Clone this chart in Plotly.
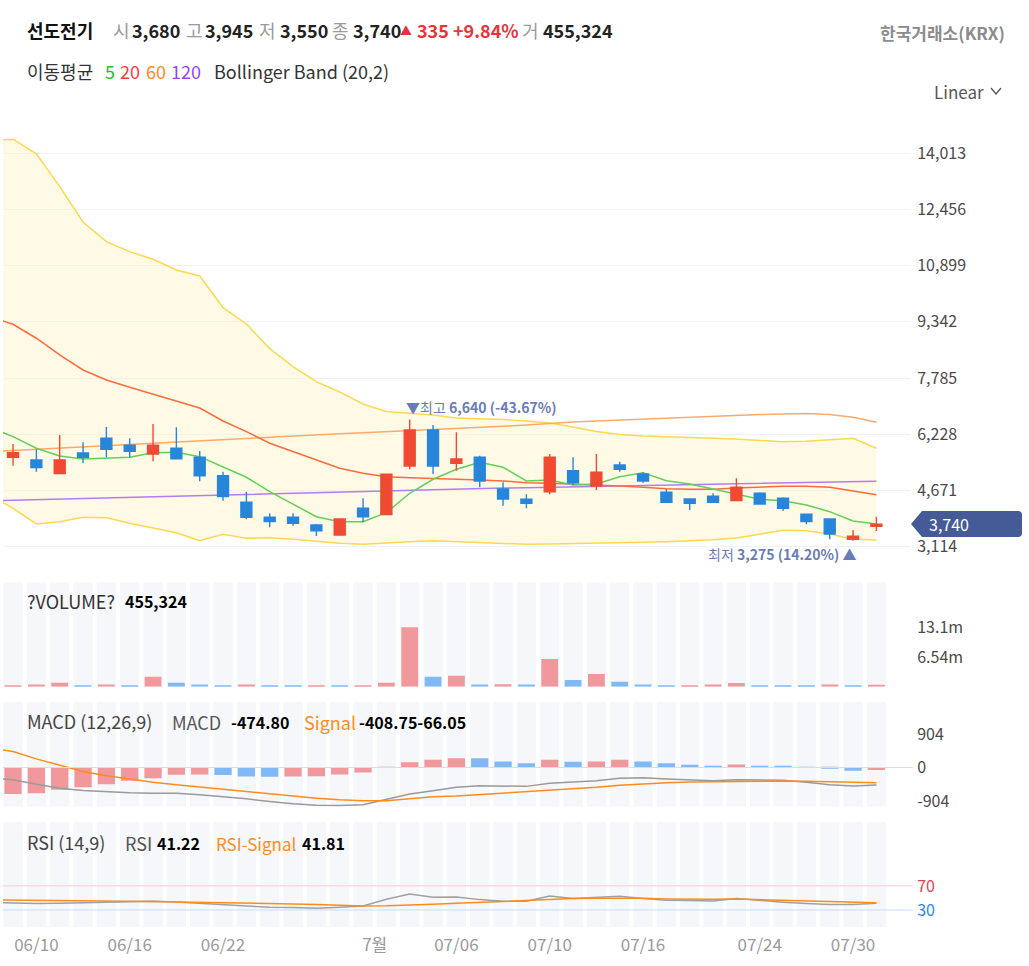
import plotly.graph_objects as go
from plotly.subplots import make_subplots

# 일봉 데이터 (화면에서 읽은 값)
days = list(range(38))
line_days = list(range(-1, 38))  # 보조지표는 화면 왼쪽 끝에서 이어짐

opens = [5591, 5516, 5137, 5710, 6118, 5924, 5683, 5841, 5591, 5081, 4344, 3929, 3929, 3715, 3438, 4178, 4001, 5350, 6348,
         5425, 5591, 4713, 4427, 4638, 5220, 4796, 5378, 5129, 4621, 4436, 4511, 4389, 4594, 4455, 4012, 3882, 3319, 3680]
highs = [5960, 5813, 6209, 6007, 6431, 6118, 6514, 6423, 5766, 5192, 4638, 4039, 4039, 3743, 3901, 4455, 5120, 6640, 6486,
         6284, 5636, 4899, 4566, 5683, 5591, 5683, 5469, 5176, 4713, 4436, 4594, 5009, 4621, 4483, 4012, 3882, 3577, 3945]
lows = [5358, 5192, 5137, 5425, 5591, 5591, 5480, 5535, 4926, 4389, 3873, 3652, 3696, 3410, 3419, 3790, 4001, 5259, 5129,
        5220, 4760, 4250, 4178, 4566, 4824, 4685, 5192, 4887, 4344, 4131, 4344, 4389, 4297, 4103, 3735, 3319, 3275, 3550]
closes = [5719, 5303, 5516, 5591, 5813, 5757, 5924, 5552, 5081, 4500, 3929, 3807, 3762, 3557, 3882, 3945, 5120, 6348, 5350,
          5544, 4935, 4436, 4317, 5591, 4887, 5176, 5259, 4935, 4344, 4317, 4344, 4760, 4297, 4178, 3807, 3466, 3405, 3740]
volumes = [250000, 500000, 880000, 200000, 500000, 220000, 2200000, 880000, 500000, 220000, 500000, 220000, 200000,
           220000, 210000, 250000, 880000, 13080000, 2200000, 2420000, 510000, 530000, 500000, 6100000, 1470000,
           2790000, 1100000, 510000, 220000, 240000, 510000, 810000, 220000, 210000, 200000, 480000, 300000, 455324]

ma5 = [6420, 6162, 5841, 5627, 5544, 5564, 5591, 5719, 5730, 5608, 5331, 5037, 4638, 4297, 3945, 3807, 3807, 4056, 4594,
       4982, 5259, 5453, 5314, 4935, 4962, 4824, 4851, 5054, 5165, 4943, 4851, 4713, 4566, 4427, 4389, 4270, 4084, 3826, 3743]
ma20 = [9490, 9277, 8889, 8426, 8010, 7733, 7531, 7345, 7160, 6957, 6597, 6301, 5979, 5746, 5516, 5286, 5148, 5054, 5026,
        5009, 4990, 4962, 4935, 4887, 4871, 4851, 4824, 4796, 4760, 4721, 4705, 4705, 4741, 4768, 4788, 4788, 4760, 4657, 4555]
ma60 = [5744, 5774, 5807, 5841, 5877, 5910, 5946, 5982, 6015, 6048, 6090, 6128, 6159, 6187, 6215, 6242, 6270, 6298, 6326,
        6353, 6389, 6417, 6450, 6486, 6532, 6569, 6597, 6625, 6648, 6680, 6708, 6727, 6755, 6774, 6791, 6802, 6774, 6700, 6561]
ma120 = [4383, 4400, 4416, 4433, 4450, 4466, 4483, 4500, 4516, 4533, 4549, 4566, 4583, 4599, 4616, 4633, 4649, 4666, 4682,
         4699, 4713, 4724, 4738, 4749, 4760, 4774, 4785, 4796, 4810, 4821, 4832, 4843, 4857, 4868, 4879, 4893, 4904, 4915, 4926]
bb_upper = [14365, 14403, 13996, 13090, 12111, 11566, 11288, 11078, 10781, 10615, 9737, 9285, 8601, 8102, 7686, 7401, 7068,
            6860, 6811, 6763, 6680, 6666, 6639, 6597, 6542, 6431, 6306, 6223, 6181, 6162, 6145, 6126, 6098, 6057, 6024,
            6035, 6071, 6118, 5841]
bb_lower = [4541, 4178, 3743, 3807, 3929, 3918, 3762, 3624, 3502, 3280, 3458, 3347, 3363, 3319, 3253, 3208, 3181, 3225,
            3253, 3280, 3253, 3230, 3208, 3181, 3189, 3197, 3208, 3225, 3236, 3253, 3272, 3308, 3355, 3452, 3568, 3557,
            3466, 3319, 3300]

macd_line = [-280, -332, -449, -557, -621, -656, -683, -692, -692, -737, -783, -846, -918, -981, -1016, -1026, -1007,
             -872, -718, -629, -535, -491, -500, -509, -427, -392, -356, -292, -275, -311, -338, -356, -329, -329, -347,
             -401, -464, -500, -474.80]
macd_signal = [520, 432, 234, 54, -108, -224, -313, -395, -467, -521, -583, -648, -711, -772, -827, -872, -899, -899,
               -853, -790, -770, -734, -697, -661, -626, -580, -535, -481, -437, -410, -392, -383, -374, -365, -365,
               -374, -392, -410, -408.75]
macd_hist = [-718, -692, -602, -530, -449, -360, -287, -198, -190, -205, -243, -246, -240, -236, -190, -135, 20, 145,
             207, 252, 248, 162, 117, 207, 158, 165, 207, 162, 117, 72, 36, 81, 36, 34, -5, -36, -85, -66.05]

rsi = [42.5, 41.7, 40.6, 41.1, 41.7, 42.8, 43.3, 44.4, 43.3, 41.1, 38.9, 36.1, 34.4, 33.9, 32.8, 34.4, 36.7, 47.8, 56.7,
       51.1, 51.7, 47.2, 44.4, 44.4, 53.3, 48.9, 50.6, 52.8, 48.9, 46.1, 45.6, 45.0, 48.9, 45.6, 42.8, 40.6, 38.9, 38.9, 41.22]
rsi_signal = [47.0, 46.7, 46.1, 45.6, 45.0, 44.4, 44.2, 43.9, 43.3, 42.8, 42.2, 41.7, 41.1, 40.0, 38.9, 37.8, 36.7, 36.9,
              37.8, 39.4, 41.1, 42.8, 44.4, 45.0, 47.2, 48.9, 49.4, 50.0, 49.4, 48.3, 47.8, 47.8, 48.3, 47.2, 46.1, 45.6,
              44.4, 43.3, 41.81]

tick_pos = [1, 5, 9, 15.5, 19, 23, 27, 32, 36]
tick_text = ["06/10", "06/16", "06/22", "7월", "07/06", "07/10", "07/16", "07/24", "07/30"]
price_ticks = [3114, 4671, 6228, 7785, 9342, 10899, 12456, 14013]

RED = "#f04a33"
BLUE = "#2886da"
RED_SOFT = "#f0989c"
BLUE_SOFT = "#80b9f5"
STRIPE = "#f5f7fb"
FONT = "Noto Sans CJK KR"

# 화면 픽셀 -> paper 좌표
def px_x(x):
    return (x - 3) / 907

def px_y(y):
    return (927 - y) / 799

fig = make_subplots(rows=4, cols=1, shared_xaxes=True)

# 가격 패널
fig.add_trace(go.Scatter(x=line_days, y=bb_upper, mode="lines", line=dict(color="#ffd84d", width=1.5)), row=1, col=1)
fig.add_trace(go.Scatter(x=line_days, y=bb_lower, mode="lines", line=dict(color="#ffd84d", width=1.5),
                         fill="tonexty", fillcolor="rgba(255,243,200,0.45)"), row=1, col=1)
fig.add_trace(go.Scatter(x=line_days, y=ma120, mode="lines", line=dict(color="#b27df2", width=1.5)), row=1, col=1)
fig.add_trace(go.Scatter(x=line_days, y=ma60, mode="lines", line=dict(color="#ffa96b", width=1.5)), row=1, col=1)
fig.add_trace(go.Scatter(x=line_days, y=ma20, mode="lines", line=dict(color="#ff6b3d", width=1.5)), row=1, col=1)
fig.add_trace(go.Scatter(x=line_days, y=ma5, mode="lines", line=dict(color="#62cf55", width=1.5)), row=1, col=1)
# 캔들은 지표선 위에 그리기 위해 겹친 축(y5)에 올린다
fig.add_trace(go.Candlestick(x=days, open=opens, high=highs, low=lows, close=closes, whiskerwidth=0,
                             xaxis="x", yaxis="y5",
                             increasing=dict(line=dict(color=RED, width=1.4), fillcolor=RED),
                             decreasing=dict(line=dict(color=BLUE, width=1.4), fillcolor=BLUE)))

# 거래량 패널
vol_top = 23.0e6
vol_colors = [RED_SOFT] + [RED_SOFT if volumes[i] > volumes[i - 1] else BLUE_SOFT for i in range(1, len(volumes))]
fig.add_trace(go.Bar(x=days, y=[vol_top] * len(days), width=0.83, marker=dict(color=STRIPE, line_width=0)), row=2, col=1)
fig.add_trace(go.Bar(x=days, y=volumes, width=0.72, marker=dict(color=vol_colors, line_width=0)), row=2, col=1)

# MACD 패널
macd_lo, macd_hi = -1058, 1777
hist_colors = [RED_SOFT] + [RED_SOFT if macd_hist[i] > macd_hist[i - 1] else BLUE_SOFT for i in range(1, len(macd_hist))]
fig.add_trace(go.Bar(x=days, y=[macd_hi - macd_lo] * len(days), base=macd_lo, width=0.83,
                     marker=dict(color=STRIPE, line_width=0)), row=3, col=1)
fig.add_trace(go.Bar(x=days, y=macd_hist, width=0.74, marker=dict(color=hist_colors, line_width=0)), row=3, col=1)
fig.add_trace(go.Scatter(x=line_days, y=macd_line, mode="lines", line=dict(color="#9a9a9a", width=1.5)), row=3, col=1)
fig.add_trace(go.Scatter(x=line_days, y=macd_signal, mode="lines", line=dict(color="#ff8c1a", width=1.5)), row=3, col=1)

# RSI 패널
rsi_lo, rsi_hi = 1.7, 176.7
fig.add_trace(go.Bar(x=days, y=[rsi_hi - rsi_lo] * len(days), base=rsi_lo, width=0.83,
                     marker=dict(color=STRIPE, line_width=0)), row=4, col=1)
fig.add_trace(go.Scatter(x=line_days, y=rsi, mode="lines", line=dict(color="#a0a0a0", width=1.5)), row=4, col=1)
fig.add_trace(go.Scatter(x=line_days, y=rsi_signal, mode="lines", line=dict(color="#ff8c1a", width=1.5)), row=4, col=1)

axis_font = dict(family=FONT, size=16, color="#4a4a4a")
x_range = [-0.43, 38.44]
price_range = [2745, 14714]
for r in range(1, 5):
    fig.update_xaxes(range=x_range, showgrid=False, zeroline=False, showline=False, showticklabels=False,
                     rangeslider_visible=False, row=r, col=1)
fig.update_xaxes(showticklabels=True, tickvals=tick_pos, ticktext=tick_text, ticks="outside", ticklen=3,
                 tickcolor="rgba(0,0,0,0)", tickfont=dict(family=FONT, size=17, color="#9a9a9a"), row=4, col=1)

fig.update_yaxes(side="right", range=price_range, tickvals=price_ticks, ticktext=[f"{v:,}" for v in price_ticks],
                 showgrid=True, gridcolor="#f0f1f3", zeroline=False, ticks="outside", ticklen=3,
                 tickcolor="rgba(0,0,0,0)", tickfont=axis_font, row=1, col=1)
fig.update_yaxes(side="right", range=[0, vol_top], tickvals=[6.54e6, 13.08e6], ticktext=["6.54m", "13.1m"],
                 showgrid=False, zeroline=False, ticks="outside", ticklen=3, tickcolor="rgba(0,0,0,0)",
                 tickfont=axis_font, row=2, col=1)
fig.update_yaxes(side="right", range=[macd_lo, macd_hi], tickvals=[-904, 0, 904], ticktext=["-904", "0", "904"],
                 showgrid=False, zeroline=False, ticks="outside", ticklen=3, tickcolor="rgba(0,0,0,0)",
                 tickfont=axis_font, row=3, col=1)
fig.update_yaxes(side="right", range=[rsi_lo, rsi_hi], tickvals=[30, 70],
                 ticktext=['<span style="color:#2b87e8">30</span>', '<span style="color:#e5434b">70</span>'],
                 showgrid=False, zeroline=False, ticks="outside", ticklen=3, tickcolor="rgba(0,0,0,0)",
                 tickfont=axis_font, row=4, col=1)

fig.update_layout(
    yaxis=dict(domain=[px_y(560), 1]),
    yaxis2=dict(domain=[px_y(686.7), px_y(582.3)]),
    yaxis3=dict(domain=[px_y(806.7), px_y(701.7)]),
    yaxis4=dict(domain=[0, px_y(821.7)]),
    yaxis5=dict(overlaying="y", range=price_range, visible=False, showgrid=False, zeroline=False),
)

shapes = [
    dict(type="line", xref="x3 domain", yref="y3", x0=0, x1=1.003, y0=0, y1=0, line=dict(color="#dddddd", width=1)),
    dict(type="line", xref="x4 domain", yref="y4", x0=0, x1=1.003, y0=70, y1=70, line=dict(color="#f9cdd0", width=1)),
    dict(type="line", xref="x4 domain", yref="y4", x0=0, x1=1.003, y0=30, y1=30, line=dict(color="#c6def9", width=1)),
    # 현재가 라벨 배경
    dict(type="path", xref="paper", xsizemode="pixel", xanchor=1, yref="y", ysizemode="pixel", yanchor=closes[-1],
         path="M 1 0 L 12 13 L 108 13 Q 112 13 112 9 L 112 -9 Q 112 -13 108 -13 L 12 -13 Z",
         fillcolor="#445b98", line=dict(width=0)),
    # Linear 드롭다운 화살표
    dict(type="path", xref="paper", yref="paper",
         path=f"M {px_x(991)} {px_y(88)} L {px_x(996)} {px_y(94)} L {px_x(1001)} {px_y(88)}",
         line=dict(color="#555555", width=1.3)),
]


def label(text, x, y, size=17, color="#333333", anchor="left"):
    return dict(xref="paper", yref="paper", x=px_x(x), y=px_y(y), xanchor=anchor, yanchor="middle",
                showarrow=False, text=text, font=dict(family=FONT, size=size, color=color))


gray = "#9b9b9b"
up_red = "#e8333c"
prev_close = closes[-2]
chg = closes[-1] - prev_close
pct = chg / prev_close * 100

hi_val = max(highs)
hi_idx = highs.index(hi_val)
lo_val = min(lows)
lo_idx = lows.index(lo_val)
hi_pct = (closes[-1] - hi_val) / hi_val * 100
lo_pct = (closes[-1] - lo_val) / lo_val * 100
mark_color = "#6a7cb8"

annotations = [
    # 상단 시세 줄
    label("<b>선도전기</b>", 25, 30, 18, "#111111"),
    label("시", 111, 30, 18, gray),
    label(f"<b>{opens[-1]:,}</b>", 130, 30, 18, "#222222"),
    label("고", 184, 30, 18, gray),
    label(f"<b>{highs[-1]:,}</b>", 203, 30, 18, "#222222"),
    label("저", 257, 30, 18, gray),
    label(f"<b>{lows[-1]:,}</b>", 278, 30, 18, "#222222"),
    label("종", 330, 30, 18, gray),
    label(f"<b>{closes[-1]:,}</b>", 351, 30, 18, "#222222"),
    label("▲", 398, 30, 12, up_red),
    label(f"<b>{chg:,}</b>", 415, 30, 18, up_red),
    label(f"<b>+{pct:.2f}%</b>", 451, 30, 18, up_red),
    label("거", 520, 30, 18, gray),
    label(f"<b>{volumes[-1]:,}</b>", 541, 30, 18, "#222222"),
    label("<b>한국거래소(KRX)</b>", 1007, 32, 17, "#8c8c8c", "right"),
    # 지표 범례 줄
    label("이동평균", 25, 71, 18, "#333333"),
    label("5", 103, 71, 18, "#1fc21f"),
    label("20", 118, 71, 18, "#ff3b3b"),
    label("60", 144, 71, 18, "#ff8a1f"),
    label("120", 169, 71, 18, "#9646ff"),
    label("Bollinger Band (20,2)", 212, 71, 18, "#333333"),
    label("Linear", 932, 91, 17, "#555555"),
    # 최고 / 최저 표시
    dict(xref="x", yref="y", x=hi_idx, y=hi_val, xanchor="left", yanchor="bottom", xshift=-6, yshift=0,
         showarrow=False, text=f"▼최고 <b>{hi_val:,} ({hi_pct:.2f}%)</b>",
         font=dict(family=FONT, size=14, color=mark_color)),
    dict(xref="x", yref="y", x=lo_idx, y=lo_val, xanchor="right", yanchor="top", xshift=5, yshift=-1,
         showarrow=False, text=f"최저 <b>{lo_val:,} ({lo_pct:.2f}%)</b> ▲",
         font=dict(family=FONT, size=14, color=mark_color)),
    dict(xref="paper", yref="y", x=1, y=closes[-1], xanchor="left", yanchor="middle", xshift=17, showarrow=False,
         text=f"{closes[-1]:,}", font=dict(family=FONT, size=16, color="white")),
    # 보조지표 라벨
    label("?VOLUME?", 25, 601, 18, "#333333"),
    label(f"<b>{volumes[-1]:,}</b>", 123, 601, 16, "#000000"),
    label("MACD (12,26,9)", 25, 721, 18, "#444444"),
    label("MACD", 170, 722, 18, "#555555"),
    label(f"<b>{macd_line[-1]:.2f}</b>", 229, 722, 16, "#000000"),
    label("Signal", 302, 722, 18, "#ff8c1a"),
    label(f"<b>{macd_signal[-1]:.2f}{macd_hist[-1]:.2f}</b>", 357, 722, 16, "#000000"),
    label("RSI (14,9)", 25, 842, 18, "#444444"),
    label("RSI", 123, 843, 18, "#555555"),
    label(f"<b>{rsi[-1]:.2f}</b>", 155, 843, 16, "#000000"),
    label("RSI-Signal", 214, 843, 17, "#ff8c1a"),
    label(f"<b>{rsi_signal[-1]:.2f}</b>", 300, 843, 16, "#000000"),
]

fig.update_layout(
    width=1029, height=966,
    margin=dict(l=3, r=119, t=128, b=39),
    paper_bgcolor="white", plot_bgcolor="white",
    showlegend=False, barmode="overlay", boxgap=0.33,
    hovermode=False,
    font=dict(family=FONT, size=16, color="#444444"),
    shapes=shapes, annotations=annotations,
)

fig.write_html("out.html", config={"displayModeBar": False},
               post_script="document.body.style.margin='0';document.body.style.overflow='hidden';")
